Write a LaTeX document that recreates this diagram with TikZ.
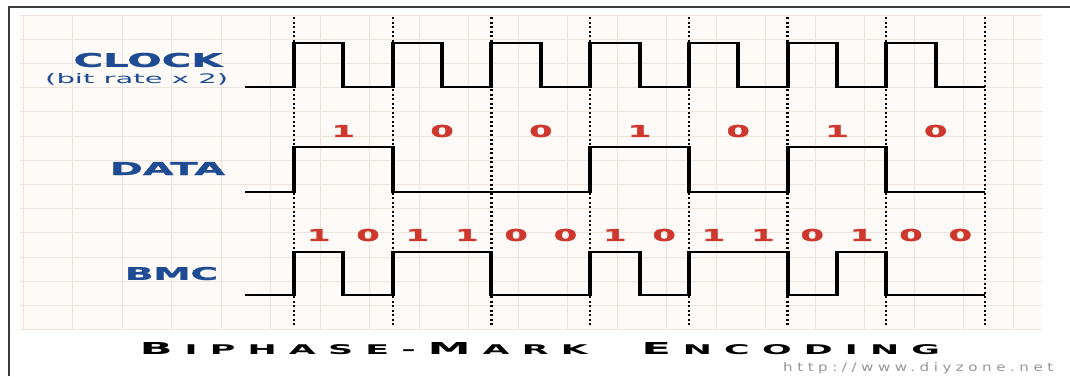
\documentclass[tikz,border=0pt]{standalone}
\usepackage{fontspec}
\usepackage{graphicx}
\setmainfont{DejaVu Sans}
\newfontfamily\heavyfont[FakeBold=1.2]{DejaVu Sans Bold}
\newfontfamily\titlefont[LetterSpace=35]{DejaVu Sans Bold}
\newfontfamily\urlfont[LetterSpace=30]{DejaVu Sans}
\definecolor{bgc}{RGB}{253,250,247}
\definecolor{gridc}{RGB}{238,228,222}
\definecolor{framec}{RGB}{60,60,60}
\definecolor{lblblue}{RGB}{30,75,145}
\definecolor{digred}{RGB}{205,55,45}
\definecolor{urlgray}{RGB}{150,150,150}
\tikzset{
  hline/.style={line width=2pt, black},
  vline/.style={line width=4pt, black},
  dotline/.style={line width=2.2pt, black, dash pattern=on 2.2pt off 2.3pt},
  lbl/.style={inner sep=0pt, text=lblblue},
  digit/.style={inner sep=0pt, text=digred},
}
\newcommand\digtxt[1]{\scalebox{2.05}[1]{\fontsize{16.4}{16}\selectfont\heavyfont #1}}
\newcommand\tbig{\fontsize{16}{16}\selectfont}
\newcommand\tsmall{\fontsize{13}{13}\selectfont}
\pgfmathsetmacro\P{(985-294)/7}
\pgfmathsetmacro\H{\P/2}
\newcommand\sigwave[3]{%
  \draw[hline] (245,#3) -- (294,#3);
  \foreach \l [count=\i from 0, remember=\l as \p (initially 0)] in {#1} {
    \pgfmathsetmacro\xs{294+\H*\i}
    \pgfmathsetmacro\xe{294+\H*(\i+1)}
    \pgfmathsetmacro\yy{\l==1 ? #2 : #3}
    \draw[hline] (\xs,\yy) -- (\xe,\yy);
    \ifnum\l=\p\else \draw[vline] (\xs,#2-1) -- (\xs,#3+1); \fi
  }
}
\begin{document}
\begin{tikzpicture}[x=1pt,y=-1pt]
\useasboundingbox (0,0) rectangle (1070,376);
\fill[white] (0,0) rectangle (1070,376);
% grid background
\fill[bgc] (20,15) rectangle (1042,330);
\foreach \i in {0,...,20} \draw[gridc, line width=1pt] ({23+49.5*\i},15) -- ({23+49.5*\i},330);
\foreach \j in {0,...,13} \draw[gridc, line width=1pt] (20,{15+24.2*\j}) -- (1042,{15+24.2*\j});
% frame
\draw[framec, line width=2pt] (9,376) -- (9,7) -- (1070,7);
% dotted bit boundaries
\foreach \k in {0,...,7} \draw[dotline] ({294+\P*\k},17) -- ({294+\P*\k},325);
% waveforms
\sigwave{1,0,1,0,1,0,1,0,1,0,1,0,1,0}{43}{87}
\sigwave{1,1,0,0,0,0,1,1,0,0,1,1,0,0}{147}{192}
\sigwave{1,0,1,1,0,0,1,0,1,1,0,1,0,0}{252}{295}
% labels
\node[lbl] (clk) at (148,60) {\resizebox{149pt}{14pt}{\heavyfont CLOCK}};
\node[lbl, anchor=base west] (clkrate) at (45,83) {\resizebox{183pt}{10pt}{(bit rate x 2)}};
\node[lbl] (data) at (167.5,168.5) {\resizebox{115pt}{13pt}{\heavyfont DATA}};
\node[lbl] (bmc) at (171.5,273.5) {\resizebox{93pt}{13pt}{\heavyfont BMC}};
% data bits
\foreach \b [count=\k from 0] in {1,0,0,1,0,1,0}
  \node[digit] (d\k) at ({294+\P*(\k+0.5)},131) {\digtxt{\b}};
% bmc bits
\foreach \b [count=\k from 0] in {1,0,1,1,0,0,1,0,1,1,0,1,0,0}
  \node[digit] (m\k) at ({294+\H*(\k+0.5)},235) {\digtxt{\b}};
% title
\node[inner sep=0pt, text=black] (title) at (540,349) {\resizebox{800pt}{12pt}{\titlefont
  \tbig B\hspace{4.5pt}\tsmall IPHASE-\hspace{4.5pt}\tbig M\hspace{4.5pt}\tsmall ARK\hspace{20pt}\tbig E\hspace{4.5pt}\tsmall NCODING}};
\node[inner sep=0pt, anchor=base west, text=urlgray] (url) at (783,371) {\resizebox{270pt}{9pt}{\urlfont http://www.diyzone.net}};
\end{tikzpicture}
\end{document}
